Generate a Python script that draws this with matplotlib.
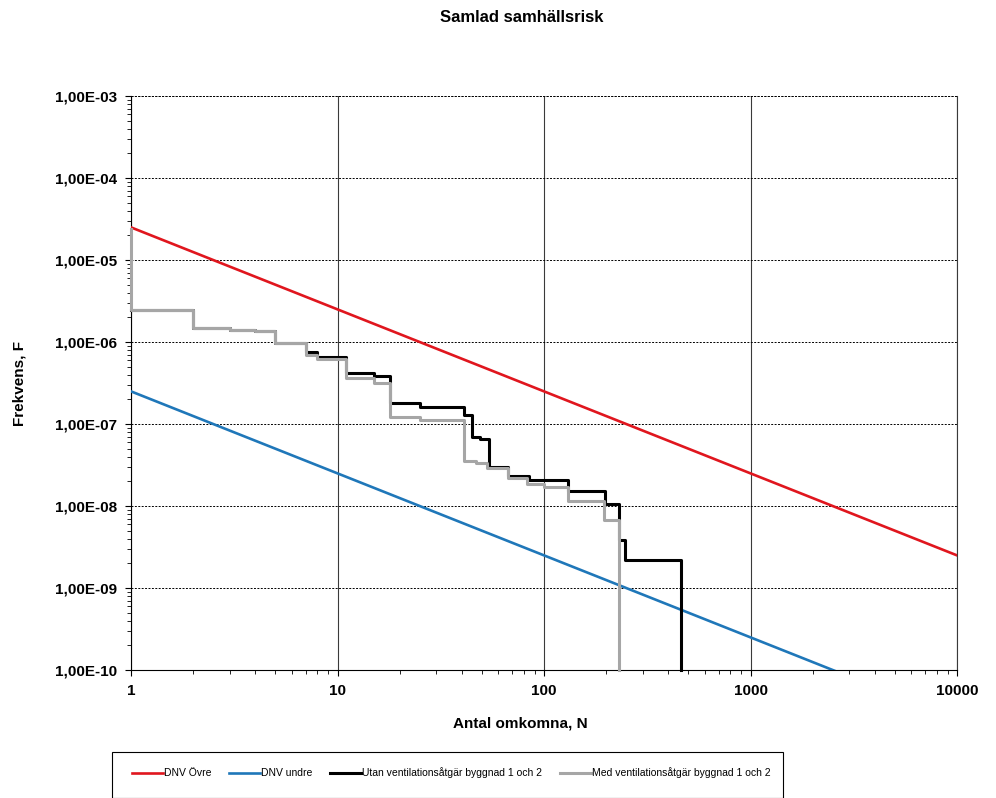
import matplotlib
matplotlib.use("Agg")
import matplotlib.pyplot as plt
from matplotlib.ticker import LogLocator, FuncFormatter, NullFormatter
from matplotlib.patches import Rectangle

plt.rcParams["font.family"] = ["Liberation Sans", "DejaVu Sans"]

# DNV criteria lines (end points, straight in log-log)
dnv_n = [1, 10000]
ovre_f = [2.5e-5, 2.5e-9]
undre_f = [2.5e-7, 2.5e-11]

# Utan ventilationsåtgär byggnad 1 och 2 (steps)
utan_n = [1, 2, 3, 4, 5, 7, 8, 11, 15, 18, 25, 41, 45, 49, 54, 67, 85, 130, 198, 231, 247, 459]
utan_f = [2.45e-6, 1.49e-6, 1.42e-6, 1.38e-6, 9.8e-7, 7.6e-7, 6.6e-7, 4.2e-7, 3.8e-7, 1.8e-7,
          1.63e-7, 1.29e-7, 7.0e-8, 6.6e-8, 3.0e-8, 2.3e-8, 2.07e-8, 1.54e-8, 1.06e-8, 3.9e-9,
          2.2e-9, 1e-10]

# Med ventilationsåtgär byggnad 1 och 2 (steps)
med_n = [1, 1, 2, 3, 4, 5, 7, 8, 11, 15, 18, 25, 41, 47, 53, 67, 83, 100, 130, 195, 231]
med_f = [2.4e-5, 2.45e-6, 1.49e-6, 1.42e-6, 1.38e-6, 9.8e-7, 6.9e-7, 6.2e-7, 3.6e-7, 3.2e-7,
         1.23e-7, 1.12e-7, 3.56e-8, 3.3e-8, 2.9e-8, 2.2e-8, 1.84e-8, 1.7e-8, 1.16e-8, 6.8e-9, 1e-10]

fig = plt.figure(figsize=(9.96, 7.98), dpi=100)
ax = fig.add_axes([131 / 996, 1 - 670 / 798, (957 - 131) / 996, (670 - 96) / 798])

ax.plot(dnv_n, ovre_f, color="#E0161E", lw=1.9, label="DNV Övre", zorder=3)
ax.plot(dnv_n, undre_f, color="#1F77B9", lw=1.9, label="DNV undre", zorder=3)
ax.plot(utan_n, utan_f, color="black", lw=2.2, drawstyle="steps-post", zorder=3,
        clip_on=False, label="Utan ventilationsåtgär byggnad 1 och 2")
ax.plot(med_n, med_f, color="#A6A6A6", lw=2.2, drawstyle="steps-post", zorder=3,
        clip_on=False, label="Med ventilationsåtgär byggnad 1 och 2")

ax.set_xscale("log")
ax.set_yscale("log")
ax.set_xlim(1, 10000)
ax.set_ylim(1e-10, 1e-3)

ax.xaxis.set_major_locator(LogLocator(base=10, numticks=10))
ax.xaxis.set_minor_locator(LogLocator(base=10, subs=range(2, 10), numticks=10))
ax.yaxis.set_major_locator(LogLocator(base=10, numticks=12))
ax.yaxis.set_minor_locator(LogLocator(base=10, subs=range(2, 10), numticks=12))
ax.xaxis.set_major_formatter(FuncFormatter(lambda v, p: f"{v:.0f}"))
ax.yaxis.set_major_formatter(FuncFormatter(lambda v, p: f"{v:.2E}".replace(".", ",")))
ax.xaxis.set_minor_formatter(NullFormatter())
ax.yaxis.set_minor_formatter(NullFormatter())

ax.tick_params(which="major", direction="out", length=4, width=0.8, labelsize=11, pad=6)
ax.tick_params(which="minor", direction="out", length=3, width=0.6)
for lab in ax.get_xticklabels() + ax.get_yticklabels():
    lab.set_fontweight("bold")

ax.grid(True, which="major", axis="x", color="#3A3A3A", lw=0.8, ls="-")
ax.grid(True, which="major", axis="y", color="black", lw=0.7, ls=(0, (2, 1.5)))
ax.set_axisbelow(True)
ax.spines["top"].set_visible(False)
ax.spines["right"].set_color("#3A3A3A")
ax.spines["right"].set_linewidth(0.8)
ax.axhline(1e-3, color="black", lw=0.7, ls=(0, (2, 1.5)), clip_on=False)

fig.text(522 / 996, 1 - 17 / 798, "Samlad samhällsrisk", ha="center", va="center",
         fontsize=12, fontweight="bold")
fig.text(520 / 996, 1 - 724 / 798, "Antal omkomna, N", ha="center", va="center",
         fontsize=11, fontweight="bold")
fig.text(20 / 996, 1 - 383 / 798, "Frekvens, F", ha="center", va="center",
         rotation=90, fontsize=11, fontweight="bold")

fig.patches.append(Rectangle((112 / 996, 0), (783 - 112) / 996, (798 - 752) / 798,
                             transform=fig.transFigure, fill=False, edgecolor="black", lw=0.8))
handles, labels = ax.get_legend_handles_labels()
fig.legend(handles, labels, loc="center left", bbox_to_anchor=(127 / 996, 1 - 773 / 798),
           ncol=4, frameon=False, fontsize=7.5, handlelength=3.0, handletextpad=0.1,
           columnspacing=1.65, borderpad=0)

fig.savefig("out.png", dpi=100)
